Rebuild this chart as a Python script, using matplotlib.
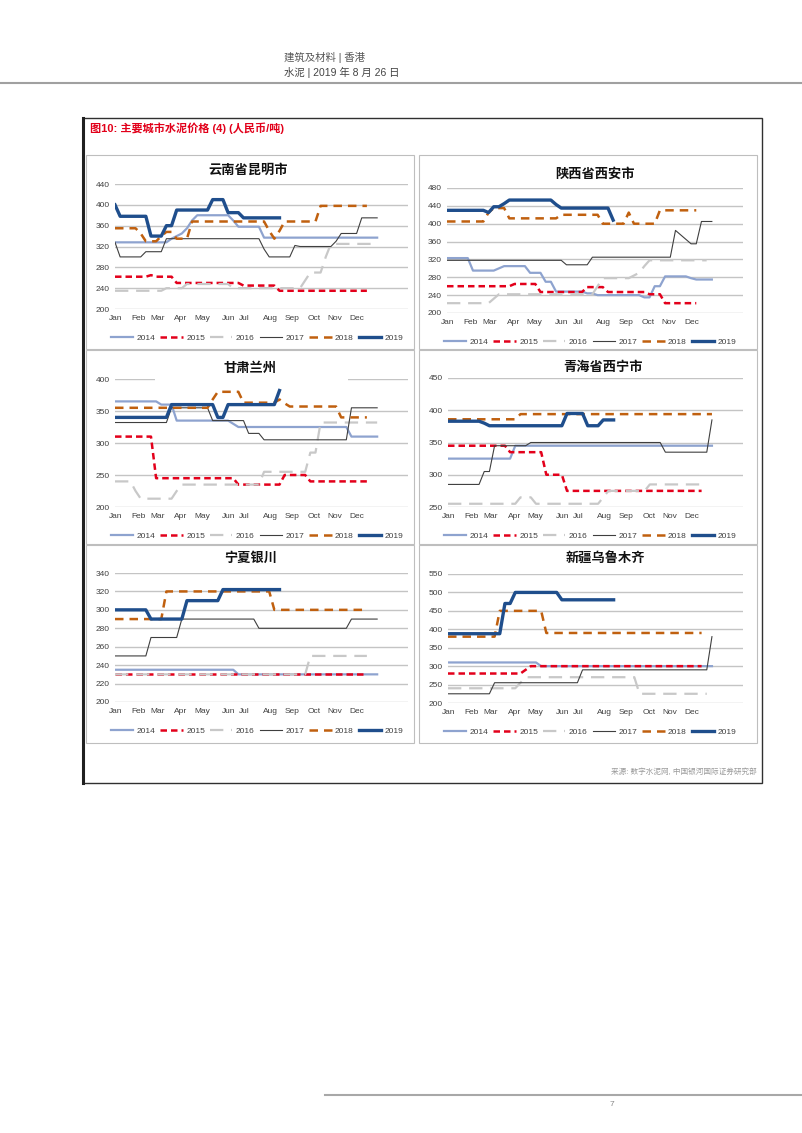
import matplotlib
matplotlib.use('Agg')
import matplotlib.pyplot as plt
from matplotlib.patches import Rectangle
from matplotlib.lines import Line2D

plt.rcParams['font.family'] = ['Liberation Sans', 'Noto Sans CJK SC']

# page size in pixels
W, H = 802, 1133

def fx(x):
    return x / W

def fy(y):
    return 1 - y / H

# ---------------- data (weekly prices, RMB/t) ----------------
years = ['2014', '2015', '2016', '2017', '2018', '2019']
months = ['Jan', 'Feb', 'Mar', 'Apr', 'May', 'Jun', 'Jul', 'Aug', 'Sep', 'Oct', 'Nov', 'Dec']

# 云南省昆明市
km_2014 = [328, 328, 328, 328, 328, 328, 328, 328, 328, 328,
           328, 335, 340, 345, 355, 370, 380, 380, 380, 380,
           380, 380, 380, 370, 358, 358, 358, 358, 358, 337,
           337, 337, 337, 337, 337, 337, 337, 337, 337, 337,
           337, 337, 337, 337, 337, 337, 337, 337, 337, 337,
           337, 337]
km_2015 = [262, 262, 262, 262, 262, 262, 262, 265, 262, 262,
           262, 262, 250, 250, 250, 250, 250, 250, 250, 250,
           250, 250, 250, 250, 250, 245, 245, 245, 245, 245,
           245, 245, 235, 235, 235, 235, 235, 235, 235, 235,
           235, 235, 235, 235, 235, 235, 235, 235, 235, 235]
km_2016 = [235, 235, 235, 235, 235, 235, 235, 235, 235, 235,
           240, 240, 240, 240, 248, 248, 248, 248, 248, 248,
           248, 248, 248, 240, 240, 240, 240, 240, 240, 240,
           240, 240, 240, 240, 240, 240, 240, 255, 270, 270,
           270, 300, 325, 325, 325, 325, 325, 325, 325, 325,
           325]
km_2017 = [328, 300, 300, 300, 300, 300, 310, 310, 310, 310,
           335, 335, 335, 335, 335, 335, 335, 335, 335, 335,
           335, 335, 335, 335, 335, 335, 335, 335, 335, 315,
           300, 300, 300, 300, 300, 322, 320, 320, 320, 320,
           320, 320, 320, 330, 345, 345, 345, 345, 375, 375,
           375, 375]
km_2018 = [355, 355, 355, 355, 355, 345, 330, 330, 330, 340,
           348, 348, 335, 335, 335, 368, 368, 368, 368, 368,
           368, 368, 368, 368, 368, 368, 368, 368, 368, 368,
           350, 335, 350, 368, 368, 368, 368, 368, 368, 368,
           398, 398, 398, 398, 398, 398, 398, 398, 398, 398]
km_2019 = [400, 378, 378, 378, 378, 378, 378, 340, 340, 340,
           360, 360, 390, 390, 390, 390, 390, 390, 390, 410,
           410, 410, 385, 385, 385, 375, 375, 375, 375, 375,
           375, 375, 375]

# 陕西省西安市
xa_2014 = [323, 323, 323, 323, 323, 295, 295, 295, 295, 295,
           300, 305, 305, 305, 305, 305, 290, 290, 290, 270,
           270, 248, 248, 248, 248, 248, 248, 244, 244, 240,
           240, 240, 240, 240, 240, 240, 240, 240, 235, 235,
           260, 260, 282, 282, 282, 282, 282, 278, 275, 275,
           275, 275]
xa_2015 = [260, 260, 260, 260, 260, 260, 260, 260, 260, 260,
           260, 260, 260, 265, 265, 265, 265, 265, 247, 247,
           247, 247, 247, 247, 247, 247, 247, 258, 258, 258,
           258, 247, 247, 247, 247, 247, 247, 247, 247, 242,
           242, 242, 222, 222, 222, 222, 222, 222, 222]
xa_2016 = [222, 222, 222, 222, 222, 222, 222, 222, 222, 232,
           242, 242, 242, 242, 242, 242, 242, 242, 242, 242,
           242, 242, 242, 242, 242, 242, 242, 242, 242, 260,
           278, 278, 278, 278, 278, 278, 284, 290, 305, 318,
           318, 318, 318, 318, 318, 318, 318, 318, 318, 318,
           318]
xa_2017 = [318, 318, 318, 318, 318, 318, 318, 318, 318, 318,
           318, 318, 318, 318, 318, 318, 318, 318, 318, 318,
           318, 318, 318, 308, 308, 308, 308, 308, 325, 325,
           325, 325, 325, 325, 325, 325, 325, 325, 325, 325,
           325, 325, 325, 325, 385, 375, 365, 355, 355, 405,
           405, 405]
xa_2018 = [405, 405, 405, 405, 405, 405, 405, 405, 425, 435,
           435, 435, 412, 412, 412, 412, 412, 412, 412, 412,
           412, 412, 420, 420, 420, 420, 420, 420, 420, 420,
           400, 400, 400, 400, 400, 425, 400, 400, 400, 400,
           400, 430, 430, 430, 430, 430, 430, 430, 430]
xa_2019 = [430, 430, 430, 430, 430, 430, 430, 430, 425, 438,
           438, 445, 453, 453, 453, 453, 453, 453, 453, 453,
           453, 443, 435, 435, 435, 435, 435, 435, 435, 435,
           435, 435, 408]

# 甘肃兰州
lz_2014 = [365, 365, 365, 365, 365, 365, 365, 365, 365, 360,
           360, 360, 335, 335, 335, 335, 335, 335, 335, 335,
           335, 335, 335, 330, 325, 325, 325, 325, 325, 325,
           325, 325, 325, 325, 325, 325, 325, 325, 325, 325,
           325, 325, 325, 325, 325, 325, 310, 310, 310, 310,
           310, 310]
lz_2015 = [310, 310, 310, 310, 310, 310, 310, 310, 245, 245,
           245, 245, 245, 245, 245, 245, 245, 245, 245, 245,
           245, 245, 245, 245, 235, 235, 235, 235, 235, 235,
           235, 235, 235, 250, 250, 250, 250, 250, 240, 240,
           240, 240, 240, 240, 240, 240, 240, 240, 240, 240]
lz_2016 = [240, 240, 240, 240, 225, 213, 213, 213, 213, 213,
           213, 213, 225, 235, 235, 235, 235, 235, 235, 235,
           235, 235, 235, 235, 235, 235, 235, 235, 235, 255,
           255, 255, 255, 255, 255, 255, 255, 255, 285, 285,
           332, 332, 332, 332, 332, 332, 332, 332, 332, 332,
           332, 332]
lz_2017 = [332, 332, 332, 332, 332, 332, 332, 332, 332, 332,
           332, 355, 355, 355, 355, 355, 355, 355, 355, 335,
           335, 335, 335, 335, 335, 335, 315, 315, 315, 305,
           305, 305, 305, 305, 305, 305, 305, 305, 305, 305,
           305, 305, 305, 305, 305, 305, 355, 355, 355, 355,
           355, 355]
lz_2018 = [355, 355, 355, 355, 355, 355, 355, 355, 355, 355,
           355, 355, 355, 355, 355, 355, 355, 355, 355, 368,
           380, 380, 380, 380, 380, 363, 363, 363, 363, 363,
           363, 363, 368, 362, 357, 357, 357, 357, 357, 357,
           357, 357, 357, 357, 340, 340, 340, 340, 340, 340]
lz_2019 = [340, 340, 340, 340, 340, 340, 340, 340, 340, 340,
           340, 360, 360, 360, 360, 360, 360, 360, 360, 360,
           340, 340, 360, 360, 360, 360, 360, 360, 360, 360,
           360, 360, 382]

# 青海省西宁市
xn_2014 = [325, 325, 325, 325, 325, 325, 325, 325, 325, 325,
           325, 325, 325, 345, 345, 345, 345, 345, 345, 345,
           345, 345, 345, 345, 345, 345, 345, 345, 345, 345,
           345, 345, 345, 345, 345, 345, 345, 345, 345, 345,
           345, 345, 345, 345, 345, 345, 345, 345, 345, 345,
           345, 345]
xn_2015 = [345, 345, 345, 345, 345, 345, 345, 345, 345, 345,
           345, 345, 335, 335, 335, 335, 335, 335, 335, 300,
           300, 300, 300, 275, 275, 275, 275, 275, 275, 275,
           275, 275, 275, 275, 275, 275, 275, 275, 275, 275,
           275, 275, 275, 275, 275, 275, 275, 275, 275, 275]
xn_2016 = [255, 255, 255, 255, 255, 255, 255, 255, 255, 255,
           255, 255, 255, 255, 265, 265, 265, 255, 255, 255,
           255, 255, 255, 255, 255, 255, 255, 255, 255, 255,
           265, 275, 275, 275, 275, 275, 275, 275, 275, 285,
           285, 285, 285, 285, 285, 285, 285, 285, 285, 285]
xn_2017 = [285, 285, 285, 285, 285, 285, 285, 305, 305, 345,
           345, 345, 345, 345, 345, 345, 350, 350, 350, 350,
           350, 350, 350, 350, 350, 350, 350, 350, 350, 350,
           350, 350, 350, 350, 350, 350, 350, 350, 350, 350,
           350, 350, 335, 335, 335, 335, 335, 335, 335, 335,
           335, 385]
xn_2018 = [386, 386, 386, 386, 386, 386, 386, 386, 386, 386,
           386, 386, 386, 386, 394, 394, 394, 394, 394, 394,
           394, 394, 394, 394, 394, 394, 394, 394, 394, 394,
           394, 394, 394, 394, 394, 394, 394, 394, 394, 394,
           394, 394, 394, 394, 394, 394, 394, 394, 394, 394,
           394, 394]
xn_2019 = [383, 383, 383, 383, 383, 383, 383, 380, 376, 376,
           376, 376, 376, 376, 376, 376, 376, 376, 376, 376,
           376, 376, 376, 395, 395, 395, 395, 376, 376, 376,
           385, 385, 385]

# 宁夏银川
yc_2014 = [235, 235, 235, 235, 235, 235, 235, 235, 235, 235,
           235, 235, 235, 235, 235, 235, 235, 235, 235, 235,
           235, 235, 235, 235, 230, 230, 230, 230, 230, 230,
           230, 230, 230, 230, 230, 230, 230, 230, 230, 230,
           230, 230, 230, 230, 230, 230, 230, 230, 230, 230,
           230, 230]
yc_2015 = [230, 230, 230, 230, 230, 230, 230, 230, 230, 230,
           230, 230, 230, 230, 230, 230, 230, 230, 230, 230,
           230, 230, 230, 230, 230, 230, 230, 230, 230, 230,
           230, 230, 230, 230, 230, 230, 230, 230, 230, 230,
           230, 230, 230, 230, 230, 230, 230, 230, 230, 230]
yc_2016 = [230, 230, 230, 230, 230, 230, 230, 230, 230, 230,
           230, 230, 230, 230, 230, 230, 230, 230, 230, 230,
           230, 230, 230, 230, 230, 230, 230, 230, 230, 230,
           230, 230, 230, 230, 230, 230, 230, 230, 250, 250,
           250, 250, 250, 250, 250, 250, 250, 250, 250, 250]
yc_2017 = [250, 250, 250, 250, 250, 250, 250, 270, 270, 270,
           270, 270, 270, 290, 290, 290, 290, 290, 290, 290,
           290, 290, 290, 290, 290, 290, 290, 290, 280, 280,
           280, 280, 280, 280, 280, 280, 280, 280, 280, 280,
           280, 280, 280, 280, 280, 280, 290, 290, 290, 290,
           290, 290]
yc_2018 = [290, 290, 290, 290, 290, 290, 290, 290, 290, 290,
           320, 320, 320, 320, 320, 320, 320, 320, 320, 320,
           320, 320, 320, 320, 320, 320, 320, 320, 320, 320,
           320, 300, 300, 300, 300, 300, 300, 300, 300, 300,
           300, 300, 300, 300, 300, 300, 300, 300, 300, 300]
yc_2019 = [300, 300, 300, 300, 300, 300, 300, 290, 290, 290,
           290, 290, 290, 290, 310, 310, 310, 310, 310, 310,
           310, 322, 322, 322, 322, 322, 322, 322, 322, 322,
           322, 322, 322]

# 新疆乌鲁木齐
um_2014 = [310, 310, 310, 310, 310, 310, 310, 310, 310, 310,
           310, 310, 310, 310, 310, 310, 310, 310, 300, 300,
           300, 300, 300, 300, 300, 300, 300, 300, 300, 300,
           300, 300, 300, 300, 300, 300, 300, 300, 300, 300,
           300, 300, 300, 300, 300, 300, 300, 300, 300, 300,
           300, 300]
um_2015 = [280, 280, 280, 280, 280, 280, 280, 280, 280, 280,
           280, 280, 280, 280, 280, 290, 300, 300, 300, 300,
           300, 300, 300, 300, 300, 300, 300, 300, 300, 300,
           300, 300, 300, 300, 300, 300, 300, 300, 300, 300,
           300, 300, 300, 300, 300, 300, 300, 300, 300, 300]
um_2016 = [240, 240, 240, 240, 240, 240, 240, 240, 240, 240,
           240, 240, 240, 240, 255, 270, 270, 270, 270, 270,
           270, 270, 270, 270, 270, 270, 270, 270, 270, 270,
           270, 270, 270, 270, 270, 270, 270, 225, 225, 225,
           225, 225, 225, 225, 225, 225, 225, 225, 225, 225,
           225]
um_2017 = [225, 225, 225, 225, 225, 225, 225, 225, 225, 255,
           255, 255, 255, 255, 255, 255, 255, 255, 255, 255,
           255, 255, 255, 255, 255, 255, 290, 290, 290, 290,
           290, 290, 290, 290, 290, 290, 290, 290, 290, 290,
           290, 290, 290, 290, 290, 290, 290, 290, 290, 290,
           290, 380]
um_2018 = [380, 380, 380, 380, 380, 380, 380, 380, 380, 380,
           450, 450, 450, 450, 450, 450, 450, 450, 450, 390,
           390, 390, 390, 390, 390, 390, 390, 390, 390, 390,
           390, 390, 390, 390, 390, 390, 390, 390, 390, 390,
           390, 390, 390, 390, 390, 390, 390, 390, 390, 390]
um_2019 = [388, 388, 388, 388, 388, 388, 388, 388, 388, 388,
           388, 470, 470, 500, 500, 500, 500, 500, 500, 500,
           500, 500, 480, 480, 480, 480, 480, 480, 480, 480,
           480, 480, 480]

# ---------------- styles ----------------
c2014 = '#8EA3CF'
c2015 = '#E3001B'
c2016 = '#C8C8C8'
c2017 = '#3F3F3F'
c2018 = '#C0600F'
c2019 = '#1F4E8C'

line_styles = [
    dict(color=c2014, lw=1.6, ls='-'),
    dict(color=c2015, lw=1.8, ls=(0, (2.6, 1.6))),
    dict(color=c2016, lw=1.6, ls=(0, (6, 3.5))),
    dict(color=c2017, lw=0.8, ls='-'),
    dict(color=c2018, lw=1.8, ls=(0, (3.4, 2.4))),
    dict(color=c2019, lw=2.4, ls='-'),
]

# month label positions on the weekly axis
month_pos = [0.2, 4.5, 8.3, 12.8, 16.9, 22.1, 25.2, 30.2, 34.5, 38.8, 42.8, 47.1]

# title, series, (ymin, ymax, step), axes px (l, t, r, b), title px, box px, legend px
panels = [
    ('云南省昆明市', [km_2014, km_2015, km_2016, km_2017, km_2018, km_2019],
     (200, 440, 40), (115, 184, 408, 309), (248, 170), (86, 155, 414, 349), (257, 338)),
    ('陕西省西安市', [xa_2014, xa_2015, xa_2016, xa_2017, xa_2018, xa_2019],
     (200, 480, 40), (447, 188, 743, 313), (595, 174), (419, 155, 757, 349), (590, 342)),
    ('甘肃兰州', [lz_2014, lz_2015, lz_2016, lz_2017, lz_2018, lz_2019],
     (200, 400, 50), (115, 379, 408, 507), (250, 369), (86, 350, 414, 544), (257, 536)),
    ('青海省西宁市', [xn_2014, xn_2015, xn_2016, xn_2017, xn_2018, xn_2019],
     (250, 450, 50), (448, 378, 743, 507), (603, 368), (419, 350, 757, 544), (590, 536)),
    ('宁夏银川', [yc_2014, yc_2015, yc_2016, yc_2017, yc_2018, yc_2019],
     (200, 340, 20), (115, 573, 408, 702), (251, 558), (86, 545, 414, 743), (257, 731)),
    ('新疆乌鲁木齐', [um_2014, um_2015, um_2016, um_2017, um_2018, um_2019],
     (200, 550, 50), (448, 574, 743, 703), (605, 558), (419, 545, 757, 743), (590, 732)),
]

fig = plt.figure(figsize=(W / 100, H / 100), dpi=100)

# header
fig.text(fx(284), fy(57), '建筑及材料 | 香港', fontsize=7.5, color='#555555', va='center')
fig.text(fx(284), fy(72), '水泥 | 2019 年 8 月 26 日', fontsize=7.5, color='#444444', va='center')
fig.add_artist(Line2D([0, 1], [fy(83), fy(83)], color='#A0A0A0', lw=1.5))

# outer frame
fig.add_artist(Rectangle((fx(83), fy(783)), fx(762) - fx(83), fy(118) - fy(783),
                         fill=False, edgecolor='#303030', lw=1.0))
fig.add_artist(Line2D([fx(83), fx(83)], [fy(118), fy(783)], color='#202020', lw=2.2))
fig.text(fx(90), fy(128), '图10: 主要城市水泥价格 (4) (人民币/吨)', fontsize=8, color='#E2001A',
         fontweight='bold', va='center')

for title, series, (y0, y1, ystep), (l, t, r, b), (tx, ty), (bl, bt, br, bb), (lx, ly) in panels:
    fig.add_artist(Rectangle((fx(bl), fy(bb)), fx(br) - fx(bl), fy(bt) - fy(bb),
                             fill=False, edgecolor='#BEBEBE', lw=0.8))
    ax = fig.add_axes([fx(l), fy(b), fx(r) - fx(l), fy(t) - fy(b)])
    handles = []
    for vals, st in zip(series, line_styles):
        h, = ax.plot(range(len(vals)), vals, color=st['color'], lw=st['lw'], ls=st['ls'])
        handles.append(h)
    ax.set_xlim(0, 57)
    ax.set_ylim(y0, y1)
    ax.set_yticks(list(range(y0, y1 + 1, ystep)))
    ax.set_xticks(month_pos)
    ax.set_xticklabels(months)
    ax.tick_params(length=0, labelsize=6, colors='#404040', pad=4)
    ax.yaxis.grid(True, color='#C4C4C4', lw=1.0)
    ax.set_axisbelow(True)
    for s in ax.spines.values():
        s.set_visible(False)
    ax.patch.set_alpha(0)
    fig.text(fx(tx), fy(ty), title, fontsize=9.5, fontweight='bold', ha='center', va='center',
             color='#111111')
    ax.legend(handles, years, ncol=6, loc='center', bbox_to_anchor=(fx(lx), fy(ly)),
              bbox_transform=fig.transFigure, frameon=False, fontsize=6,
              handlelength=2.7, handletextpad=0.4, columnspacing=0.6,
              labelcolor='#404040')

# title area of the Lanzhou chart hides part of the top gridline
fig.add_artist(Rectangle((fx(155), fy(383)), fx(348) - fx(155), fy(374) - fy(383),
                         facecolor='white', edgecolor='none', zorder=5))

fig.text(fx(757), fy(772), '来源: 数字水泥网, 中国银河国际证券研究部', fontsize=5.5,
         color='#9A9A9A', ha='right', va='center')

# footer
fig.add_artist(Line2D([fx(325), 1], [fy(1095), fy(1095)], color='#A8A8A8', lw=1.5))
fig.text(fx(612), fy(1104), '7', fontsize=6, color='#888888', ha='center', va='center')

fig.savefig('out.png', dpi=100)
